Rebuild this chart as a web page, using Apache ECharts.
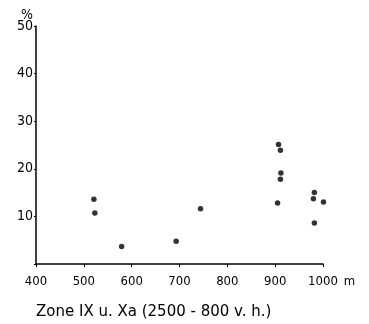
<!DOCTYPE html>
<html><head><meta charset="utf-8">
<script src="https://cdn.jsdelivr.net/npm/echarts@6/dist/echarts.min.js"></script>
<style>html,body{margin:0;padding:0;background:#fff}#c{width:369px;height:324px}</style>
</head><body><div id="c"></div>
<script>
const altitude = [521, 523, 579, 693, 744, 907, 911, 912, 911, 905, 982, 980, 1001, 982];
const percent  = [13.6, 10.7, 3.7, 4.8, 11.6, 25.1, 23.9, 19.1, 17.8, 12.8, 15.0, 13.7, 13.0, 8.6];
const xTicks = [400, 500, 600, 700, 800, 900, 1000];
const yTicks = [10, 20, 30, 40, 50];
const xTitle = 'Zone IX u. Xa (2500 - 800 v. h.)';

const chart = echarts.init(document.getElementById('c'));
const ink = '#000';
const fam = "'DejaVu Sans Condensed', 'DejaVu Sans', sans-serif";
chart.setOption({
  animation: false,
  backgroundColor: '#fff',
  grid: {left: 36, right: 46, top: 26, bottom: 60},
  title: {text: xTitle, left: 31, top: 300,
    textStyle: {fontFamily: "'DejaVu Sans', sans-serif", fontSize: 15, fontWeight: 'normal', color: ink}},
  xAxis: {
    type: 'value', min: xTicks[0], max: xTicks[xTicks.length-1], interval: 100,
    axisLine: {lineStyle: {color: ink, width: 1.5}},
    axisTick: {show: true, length: 3, lineStyle: {color: ink}},
    splitLine: {show: false},
    axisLabel: {color: ink, fontFamily: fam, fontSize: 13, margin: 11,
      formatter: v => String(v)},
    name: 'm', nameLocation: 'end', nameGap: 15,
    nameTextStyle: {color: ink, fontFamily: fam, fontSize: 13, verticalAlign: 'top', padding: [11, 0, 0, 0]}
  },
  yAxis: {
    type: 'value', min: 0, max: yTicks[yTicks.length-1], interval: 10,
    axisLine: {show: true, lineStyle: {color: ink, width: 1.5}},
    axisTick: {show: true, length: 2, lineStyle: {color: ink}},
    splitLine: {show: false},
    axisLabel: {color: ink, fontFamily: fam, fontSize: 14, margin: 3,
      formatter: v => yTicks.includes(v) ? String(v) : ''},
    name: '%', nameLocation: 'end', nameGap: 4, nameMoveOverlap: false,
    nameTextStyle: {color: ink, fontFamily: fam, fontSize: 14, align: 'right', padding: [0, 3, 0, 0]}
  },
  series: [{
    type: 'scatter', symbol: 'circle', symbolSize: 5.5, clip: false,
    itemStyle: {color: ink},
    data: altitude.map((a, i) => [a, percent[i]])
  }]
});
</script></body></html>
